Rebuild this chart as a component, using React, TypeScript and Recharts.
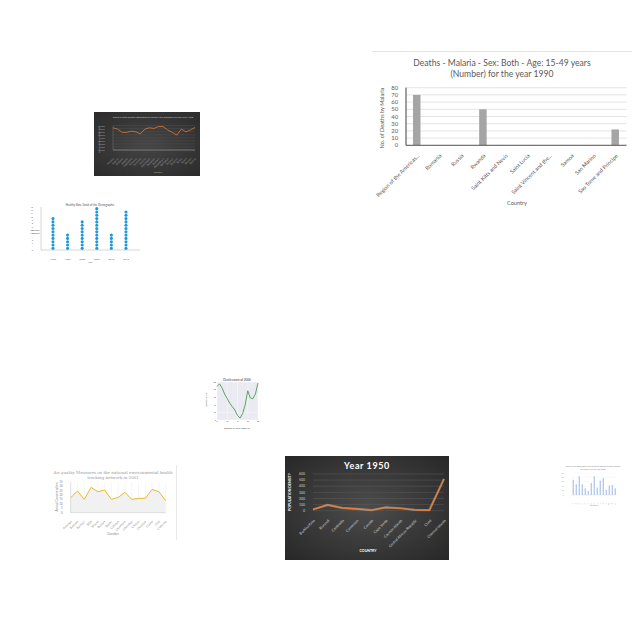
import React from "react";
import {
  BarChart,
  Bar,
  LineChart,
  Line,
  ComposedChart,
  Area,
  ScatterChart,
  Scatter,
  XAxis,
  YAxis,
  CartesianGrid,
} from "recharts";

// --- malaria bar chart (the big one, top right)
const malariaCountries = [
  "Region of the Americas...",
  "Romania",
  "Russia",
  "Rwanda",
  "Saint Kitts and Nevis",
  "Saint Lucia",
  "Saint Vincent and the...",
  "Samoa",
  "San Marino",
  "Sao Tome and Principe",
];
const malariaDeaths = [70, 0, 0, 50, 0, 0, 0, 0, 0, 22];
const malariaTicks = [0, 10, 20, 30, 40, 50, 60, 70, 80];

// --- small dark line chart
const darkCountries = [
  "Albania", "Algeria", "Andorra", "Angola", "Argentina", "Armenia", "Australia",
  "Austria", "Azerbaijan", "Bahamas", "Bahrain", "Bangladesh", "Barbados",
  "Belarus", "Belgium", "Belize", "Benin", "Bhutan", "Bolivia",
];
const darkShare = [7.3, 6.9, 5.8, 5.8, 6.2, 6.0, 5.3, 6.9, 7.3, 7.1, 7.7, 7.7, 6.6, 5.8, 4.9, 6.9, 6.0, 6.6, 7.4];
const darkTicks = [0, 1, 2, 3, 4, 5, 6, 7, 8];

// --- dot stack chart
const dotYears = ["1990", "1995", "2000", "2005", "2010", "2015"];
const dotCounts = [10, 5, 9, 13, 5, 12];
const dotTicks = [0, 1, 2, 3, 4, 5, 6, 7, 8, 9, 10, 11, 12, 13];

// --- green line chart
const greenAges = ["0", "5", "10", "15", "20", "25", "30", "35", "40", "45", "50", "55", "60", "65", "70", "75", "80"];
const greenDeaths = [88, 95, 84, 68, 56, 44, 35, 26, 12, 5, 17, 40, 77, 58, 56, 69, 97];

// --- yellow area/line chart
const airCounties = [
  "Autauga", "Baldwin", "Barbour", "Bibb", "Blount", "Bullock", "Butler", "Calhoun",
  "Chambers", "Cherokee", "Chilton", "Choctaw", "Clarke", "Clay", "Cleburne",
];
const airValues = [16.9, 24.5, 15, 28.6, 23.7, 25.6, 15, 17.3, 23, 15, 16.2, 16.2, 26.3, 23.7, 13.5];
const airTicks = [0, 5, 10, 15, 20, 25, 30, 35];

// --- Year 1950 dark line chart
const popCountries = [
  "Burkina Faso", "Burundi", "Cambodia", "Cameroon", "Canada", "Cape Verde",
  "Cayman Islands", "Central African Republic", "Chad", "Channel Islands",
];
const popDensity = [20, 95, 45, 30, 8, 55, 40, 12, 10, 520];
const popTicks = [0, 100, 200, 300, 400, 500, 600];

// --- tiny blue bar chart
const blueCountries = [
  "A", "B", "C", "D", "E", "F", "G", "H", "I", "J", "K", "L", "M", "N", "O",
];
const blueValues = [69, 49, 85, 49, 31, 18, 54, 85, 34, 65, 77, 23, 43, 46, 31];
const blueTicks = [0, 20, 40, 60, 80, 100];

const FONT = "Lato, 'Liberation Sans', sans-serif";

function SlantTick(props: any) {
  const { x, y, payload, size, color, dy, weight } = props;
  return (
    <g transform={`translate(${x},${y})`}>
      <text
        x={0}
        y={0}
        dy={dy}
        textAnchor="end"
        fontSize={size}
        fontWeight={weight}
        fill={color}
        fontFamily={FONT}
        transform="rotate(-45)"
      >
        {payload.value}
      </text>
    </g>
  );
}

function Txt(props: any) {
  const { x, y, size, color = "#595959", rot, children, anchor = "middle", ...rest } = props;
  return (
    <text
      x={x}
      y={y}
      fontSize={size}
      fill={color}
      textAnchor={anchor}
      fontFamily={FONT}
      transform={rot ? `rotate(${rot} ${x} ${y})` : undefined}
      {...rest}
    >
      {children}
    </text>
  );
}

const box = (left: number, top: number, width: number, height: number, extra: any = {}) =>
  ({ position: "absolute", left, top, width, height, ...extra }) as React.CSSProperties;

export default function App() {
  const malaria = malariaCountries.map((c, i) => ({ country: c, deaths: malariaDeaths[i] }));
  const dark = darkCountries.map((c, i) => ({ country: c, share: darkShare[i] }));
  const dots = dotCounts.flatMap((n, i) =>
    Array.from({ length: n }, (_, k) => ({ year: i, level: k + 0.5 }))
  );
  const green = greenAges.map((a, i) => ({ age: a, deaths: greenDeaths[i] }));
  const air = airCounties.map((c, i) => ({ county: c, value: airValues[i] }));
  const pop = popCountries.map((c, i) => ({ country: c, density: popDensity[i] }));
  const blue = blueCountries.map((c, i) => ({ country: c, value: blueValues[i] }));

  return (
    <div style={box(0, 0, 640, 640, { background: "#fff", fontFamily: FONT })}>
      {/* malaria */}
      <div style={box(372, 51, 260, 1, { background: "#e4e4e4" })} />
      <div style={box(372, 52, 260, 158)}>
        <BarChart width={260} height={158} data={malaria} margin={{ top: 35.7, right: 5.5, left: 0, bottom: 9.7 }} barCategoryGap="33%">
          <CartesianGrid vertical={false} stroke="#d9d9d9" strokeWidth={0.7} />
          <XAxis
            dataKey="country"
            interval={0}
            height={55}
            tickLine={false}
            axisLine={{ stroke: "#595959" }}
            tick={(p: any) => <SlantTick {...p} size={5.4} color="#595959" dy={4} />}
          />
          <YAxis
            width={34}
            domain={[0, 80]}
            ticks={malariaTicks}
            interval={0}
            tickLine={false}
            axisLine={{ stroke: "#404040" }}
            tick={{ fontSize: 5.8, fill: "#595959", fontFamily: FONT }}
          />
          <Bar dataKey="deaths" fill="#a5a5a5" barSize={7.5} isAnimationActive={false} />
        </BarChart>
      </div>

      {/* dark small line */}
      <div style={box(94, 112, 106, 64, { background: "radial-gradient(ellipse at center, #454545 0%, #2b2b2b 100%)" })}>
        <LineChart width={106} height={64} data={dark} margin={{ top: 13.7, right: 5, left: 0, bottom: 6 }}>
          <CartesianGrid vertical={false} stroke="#5a5a5a" strokeWidth={0.4} />
          <XAxis
            dataKey="country"
            interval={0}
            height={20}
            tickLine={false}
            axisLine={{ stroke: "#777" }}
            tick={(p: any) => <SlantTick {...p} size={2.6} color="#9a9a9a" dy={1.5} />}
          />
          <YAxis
            width={19}
            domain={[0, 8]}
            ticks={darkTicks}
            interval={0}
            tickLine={false}
            axisLine={{ stroke: "#777", strokeWidth: 0.5 }}
            tickFormatter={(v: number) => `${v.toFixed(2)}%`}
            tick={{ fontSize: 2.4, fill: "#a0a0a0", fontFamily: FONT }}
          />
          <Line dataKey="share" stroke="#e2772f" strokeWidth={0.8} dot={false} isAnimationActive={false} />
        </LineChart>
      </div>

      {/* dot stack */}
      <div style={box(30, 200, 112, 64)}>
        <ScatterChart width={112} height={64} margin={{ top: 7, right: 2, left: 0, bottom: 4 }}>
          <XAxis
            type="number"
            dataKey="year"
            domain={[-0.82, 5.96]}
            ticks={[0, 1, 2, 3, 4, 5]}
            height={10}
            tickLine={false}
            axisLine={{ stroke: "#999", strokeWidth: 0.4 }}
            tickFormatter={(v: number) => dotYears[v] ?? ""}
            tick={{ fontSize: 2.6, fill: "#666", fontFamily: FONT }}
          />
          <YAxis
            type="number"
            dataKey="level"
            width={11}
            domain={[0, 13]}
            ticks={dotTicks}
            interval={0}
            tickLine={false}
            axisLine={{ stroke: "#999", strokeWidth: 0.4 }}
            tick={{ fontSize: 2.2, fill: "#666", fontFamily: FONT }}
          />
          <Scatter
            data={dots}
            fill="#1f9ad6"
            isAnimationActive={false}
            shape={(p: any) => <circle cx={p.cx} cy={p.cy} r={1.55} fill="#1f9ad6" />}
          />
        </ScatterChart>
      </div>

      {/* green line */}
      <div style={box(200, 376, 62, 54)}>
        <LineChart width={62} height={54} data={green} margin={{ top: 6, right: 4, left: 0, bottom: 5 }}>
          <CartesianGrid fill="#eaeaf2" stroke="#ffffff" strokeWidth={0.4} />
          <XAxis
            dataKey="age"
            interval={3}
            height={5}
            tickLine={false}
            tickSize={0}
            tickMargin={1}
            axisLine={false}
            tick={{ fontSize: 1.8, fill: "#555", fontFamily: FONT }}
          />
          <YAxis
            width={17}
            domain={[0, 100]}
            ticks={[0, 20, 40, 60, 80, 100]}
            tickLine={false}
            tickSize={0}
            tickMargin={1}
            axisLine={false}
            tick={{ fontSize: 2, fill: "#555", fontFamily: FONT }}
          />
          <Line dataKey="deaths" type="linear" stroke="#4e9a4e" strokeWidth={0.9} dot={false} isAnimationActive={false} />
        </LineChart>
      </div>

      {/* yellow area */}
      <div style={box(55, 465, 121, 75, { borderRight: "1px solid #e8e8e8" })}>
        <ComposedChart width={121} height={75} data={air} margin={{ top: 16.7, right: 10.3, left: 0, bottom: 7.3 }}>
          <CartesianGrid horizontal={false} stroke="#ececec" strokeWidth={0.5} />
          <XAxis
            dataKey="county"
            interval={0}
            height={20}
            tickLine={false}
            axisLine={{ stroke: "#bbb", strokeWidth: 0.4 }}
            tick={(p: any) => <SlantTick {...p} size={3} color="#888" dy={1.5} />}
          />
          <YAxis
            width={15.7}
            domain={[0, 35]}
            ticks={airTicks}
            interval={0}
            tickLine={false}
            axisLine={{ stroke: "#bbb", strokeWidth: 0.4 }}
            tick={{ fontSize: 2.8, fill: "#888", fontFamily: FONT }}
          />
          <Area dataKey="value" type="linear" stroke="none" fill="#f1f1f1" fillOpacity={1} isAnimationActive={false} />
          <Line dataKey="value" type="linear" stroke="#e8b92a" strokeWidth={1} dot={false} isAnimationActive={false} />
        </ComposedChart>
      </div>

      {/* Year 1950 */}
      <div style={box(285, 456, 164, 104, { background: "radial-gradient(ellipse at center, #4c4c4c 0%, #272727 100%)" })}>
        <LineChart width={164} height={104} data={pop} margin={{ top: 18, right: 5, left: 0, bottom: 13.3 }}>
          <CartesianGrid vertical={false} stroke="#5c5c5c" strokeWidth={0.5} />
          <XAxis
            dataKey="country"
            interval={0}
            height={36}
            tickLine={false}
            axisLine={false}
            tick={(p: any) => <SlantTick {...p} size={3.6} color="#d8d8d8" dy={3} />}
          />
          <YAxis
            width={28}
            domain={[0, 600]}
            ticks={popTicks}
            interval={0}
            tickLine={false}
            axisLine={false}
            tick={{ fontSize: 3.4, fill: "#d0d0d0", fontFamily: FONT }}
          />
          <Line dataKey="density" type="linear" stroke="#f7c9a6" strokeWidth={2.2} strokeOpacity={0.45} dot={false} isAnimationActive={false} />
          <Line dataKey="density" type="linear" stroke="#ee7d31" strokeWidth={1.1} dot={false} isAnimationActive={false} />
        </LineChart>
      </div>

      {/* tiny blue bars */}
      <div style={box(555, 462, 72, 48)}>
        <BarChart width={72} height={48} data={blue} margin={{ top: 11, right: 10.3, left: 0, bottom: 5 }} barCategoryGap="35%">
          <CartesianGrid vertical={false} stroke="#eeeeee" strokeWidth={0.3} />
          <XAxis
            dataKey="country"
            interval={0}
            height={10}
            tickLine={false}
            axisLine={{ stroke: "#ccc", strokeWidth: 0.3 }}
            tick={(p: any) => <SlantTick {...p} size={1.8} color="#aaa" dy={1} />}
          />
          <YAxis
            width={16.7}
            domain={[0, 100]}
            ticks={blueTicks}
            interval={0}
            tickLine={false}
            axisLine={false}
            tick={{ fontSize: 1.8, fill: "#aaa", fontFamily: FONT }}
          />
          <Bar dataKey="value" fill="#8eb1e3" isAnimationActive={false} />
        </BarChart>
      </div>

      {/* titles and axis labels */}
      <svg width={640} height={640} style={{ position: "absolute", left: 0, top: 0, pointerEvents: "none" }}>
        <Txt x={502} y={66} size={8.6}>Deaths - Malaria - Sex: Both - Age: 15-49 years</Txt>
        <Txt x={502} y={77} size={8.6}>(Number) for the year 1990</Txt>
        <Txt x={384} y={118} size={5.6} rot={-90}>No. of Deaths by Malaria</Txt>
        <Txt x={517} y={205} size={5.6}>Country</Txt>

        <Txt x={153} y={118} size={2.5} color="#c8c8c8">Share of total deaths attributed to alcohol use disorders for the year 1990</Txt>
        <Txt x={100} y={140} size={2.5} color="#aaa" rot={-90}>Share of total deaths (%)</Txt>
        <Txt x={158} y={173} size={2.5} color="#aaa">Country</Txt>

        <Txt x={90} y={206} size={2.8} color="#555">Healthy Base Stock of the Demographic</Txt>
        <Txt x={35} y={231} size={2.4} color="#555">Indicator</Txt>
        <Txt x={35} y={234} size={2.4} color="#555">(Number)</Txt>
        <Txt x={90} y={263} size={2.5} color="#666">Year</Txt>

        <Txt x={237} y={381} size={3} color="#333">Death count of 2006</Txt>
        <Txt x={207} y={400} size={2.4} color="#444" rot={-90}>Death count</Txt>
        <Txt x={237} y={428.5} size={2.2} color="#444">Number of Years, 2006-07</Txt>

        <Txt x={113} y={474} size={4} color="#9a9a9a" fontFamily="'DejaVu Serif', serif">Air quality Measures on the national environmental health</Txt>
        <Txt x={113} y={479} size={4} color="#9a9a9a" fontFamily="'DejaVu Serif', serif">tracking network in 2001</Txt>
        <Txt x={58} y={497} size={3} color="#888" rot={-90}>Annual Concentration</Txt>
        <Txt x={113} y={535} size={3} color="#888">Counties</Txt>

        <Txt x={367} y={469} size={9} color="#ffffff" fontWeight="bold" letterSpacing={0.6}>Year 1950</Txt>
        <Txt x={291} y={492} size={3.5} color="#ffffff" fontWeight="bold" rot={-90}>POPULATION DENSITY</Txt>
        <Txt x={368} y={552} size={3.5} color="#ffffff" fontWeight="bold">COUNTRY</Txt>

        <Txt x={593} y={466.5} size={2} color="#888">Share of the population with access to improved water sources</Txt>
        <Txt x={593} y={469.5} size={2} color="#888">by country for the year 2000</Txt>
        <Txt x={594} y={506} size={2} color="#999">Countries</Txt>
      </svg>
    </div>
  );
}
